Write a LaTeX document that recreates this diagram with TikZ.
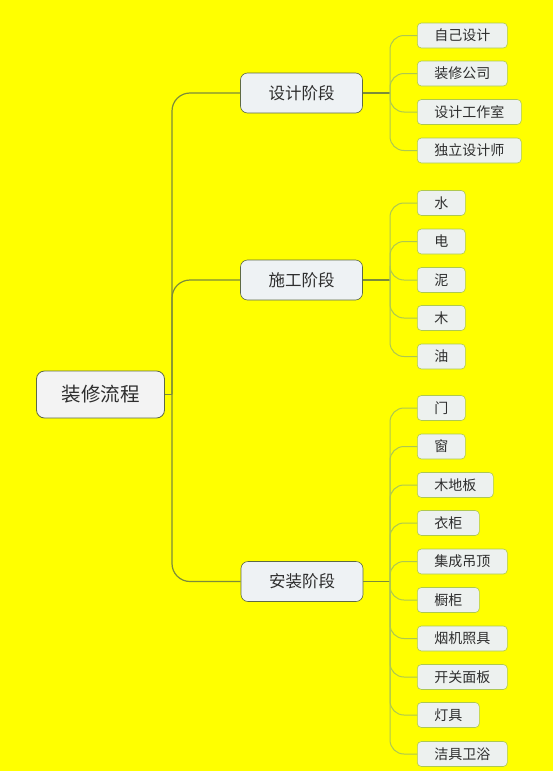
\documentclass[tikz,border=0pt]{standalone}
\usepackage{fontspec}
\setmainfont{Noto Sans CJK SC}
\definecolor{bgyellow}{HTML}{FFFF00}
\definecolor{boxfill}{HTML}{EEF2F4}
\definecolor{leaffill}{HTML}{EDF1EF}
\definecolor{rootfill}{HTML}{F3F3F3}
\definecolor{stageline}{HTML}{5E6A44}
\definecolor{leafline}{HTML}{AEC850}
\definecolor{trunkline}{HTML}{7C8C3A}
\definecolor{inktext}{HTML}{2E2E2E}
\tikzset{
  rootbox/.style={draw=stageline,fill=rootfill,thick,rounded corners=8pt,
    text=inktext,minimum height=47pt,inner xsep=25pt,
    font=\fontsize{19.5}{22}\selectfont},
  stagebox/.style={draw=stageline,fill=boxfill,semithick,rounded corners=7pt,
    text=inktext,minimum height=40pt,inner xsep=28pt,
    font=\fontsize{16.5}{19}\selectfont},
  leafbox/.style={draw=leafline,fill=leaffill,semithick,rounded corners=4pt,
    text=inktext,minimum height=25pt,inner xsep=17pt,anchor=west,
    font=\fontsize{14}{16}\selectfont},
  trunk/.style={draw=trunkline,line width=1.2pt},
  twig/.style={draw=leafline,line width=1pt,rounded corners=14pt}
}
\begin{document}
\begin{tikzpicture}[x=1pt,y=-1pt]
  \fill[bgyellow] (0,0) rectangle (553,771);
  \useasboundingbox (0,0) rectangle (553,771);
  % root and stages
  \node[rootbox] (root) at (100.5,394.5) {装修流程};
  \node[stagebox] (design) at (301.5,93) {设计阶段};
  \node[stagebox] (build) at (301.5,280) {施工阶段};
  \node[stagebox] (install) at (302,581.5) {安装阶段};
  \coordinate (hub) at (172,394.5);
  \coordinate (busd) at (390,93);
  \coordinate (busb) at (390,280);
  \coordinate (busi) at (390,581.5);
  % trunk
  \draw[trunk] (root.east) -- (hub);
  \draw[trunk,rounded corners=18pt] (hub) |- (design.west);
  \draw[trunk,rounded corners=18pt] (hub) |- (build.west);
  \draw[trunk,rounded corners=18pt] (hub) |- (install.west);
  \draw[trunk] (design.east) -- (busd);
  \draw[trunk] (build.east) -- (busb);
  \draw[trunk] (install.east) -- (busi);
  % design leaves
  \foreach \name/\txt/\y in {d1/自己设计/35.5, d2/装修公司/73.5,
      d3/设计工作室/112, d4/独立设计师/150.5}{
    \node[leafbox] (\name) at (417,\y) {\txt};
    \draw[twig] (busd) |- (\name.west);
  }
  % build leaves
  \foreach \name/\txt/\y in {b1/水/203, b2/电/241.5, b3/泥/280,
      b4/木/318, b5/油/356.5}{
    \node[leafbox] (\name) at (417,\y) {\txt};
    \draw[twig] (busb) |- (\name.west);
  }
  % install leaves
  \foreach \name/\txt/\y in {i1/门/408, i2/窗/446.5, i3/木地板/485,
      i4/衣柜/523, i5/集成吊顶/561.5, i6/橱柜/600, i7/烟机照具/638.5,
      i8/开关面板/677, i9/灯具/715, i10/洁具卫浴/754}{
    \node[leafbox] (\name) at (417,\y) {\txt};
    \draw[twig] (busi) |- (\name.west);
  }
\end{tikzpicture}
\end{document}
